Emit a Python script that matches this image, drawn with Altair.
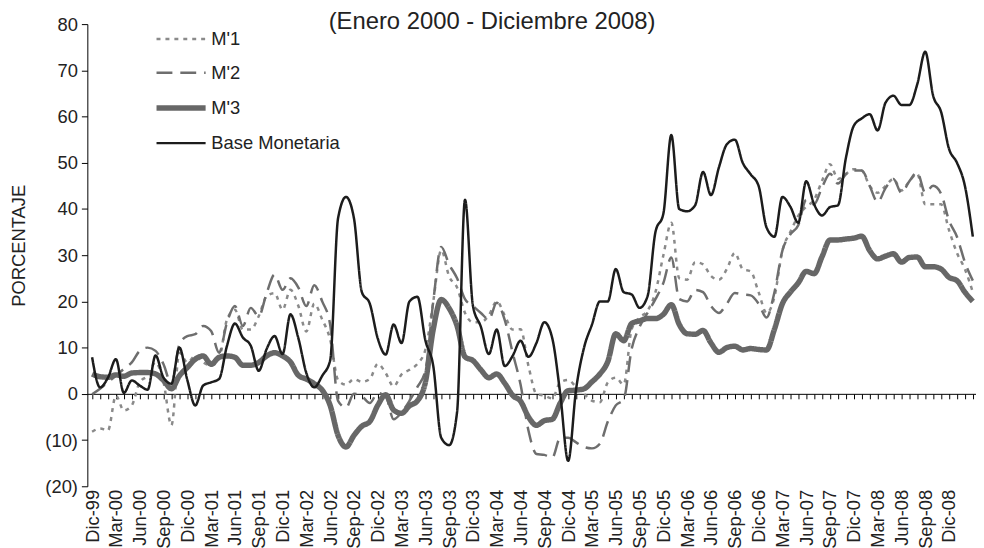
import altair as alt
import pandas as pd

# month index 0 = Dic-99 ... 111 = Mar-09
m1 = [-8.2, -7.5, -7.9, -0.4, -3.6, -2.5, 2.5, 3.9, 6.8, 2.5,
      -6.8, 8.9, 6.8, 8.2, 6.8, 6.1, 7.5, 16.1, 18.2, 13.9,
      13.9, 16.8, 21.1, 21.8, 18.2, 22.5, 19.0, 13.5, 19.5, 16.1,
      11.8, 3.0, 2.0, 3.2, 2.6, 3.2, 6.5, 4.5, 1.6, 4.2,
      5.2, 6.5, 9.5, 20.0, 31.1, 25.4, 23.0, 17.5, 15.5, 15.5,
      17.0, 20.0, 17.0, 13.9, 14.0, 6.0, 0.0, -0.4, -1.0, 2.5,
      3.0, 1.5, 0.0, -1.5, -1.8, 2.5, 3.5, 2.0, 14.0, 16.5,
      18.0, 22.0, 30.0, 37.0, 25.0, 24.7, 28.5, 28.0, 25.5, 24.7,
      27.0, 30.5, 27.0, 26.5, 22.0, 17.5, 21.0, 31.0, 35.0, 38.5,
      40.5, 42.0, 46.1, 49.7, 46.5, 47.6, 48.6, 48.3, 45.0, 43.5,
      45.0, 46.5, 44.0, 46.0, 47.6, 41.0, 41.0, 41.0, 35.4, 30.5,
      27.0, 22.0]
m2 = [-0.1, 1.1, 2.5, 3.9, 5.4, 6.8, 9.3, 10.0, 9.3, 6.4,
      2.1, 10.7, 12.5, 12.9, 14.7, 13.6, 8.9, 15.4, 19.0, 14.7,
      18.6, 16.8, 21.8, 25.8, 22.5, 25.0, 23.0, 19.0, 23.5, 20.0,
      15.0, -1.5, -3.0, 0.0, -0.5, -2.0, 0.2, -0.5, -5.5, -4.0,
      -1.5, 1.5, 5.0, 20.0, 31.8, 28.0, 25.0, 20.5, 19.0, 17.5,
      16.1, 19.7, 16.0, 8.9, 2.0, -8.0, -13.0, -13.2, -13.8, -9.5,
      -9.5, -10.5, -11.5, -11.8, -10.8, -6.0, -2.5, -1.2, 9.7, 14.5,
      17.5, 20.5, 24.0, 29.5, 20.5, 20.0, 22.5, 22.0, 19.0, 17.5,
      19.5, 21.8, 21.5, 21.3, 19.5, 16.5, 22.0, 31.0, 34.5, 36.5,
      42.0, 41.0, 44.7, 47.6, 45.5, 47.5, 48.3, 48.3, 45.0, 41.5,
      44.5, 46.5, 43.5, 46.0, 47.9, 43.5, 45.0, 43.3, 37.5, 34.0,
      28.5, 24.5]
m3 = [4.3, 3.7, 3.6, 4.1, 3.8, 4.5, 4.6, 4.6, 4.3, 2.9,
      1.1, 3.9, 5.7, 7.5, 8.2, 6.4, 7.9, 8.2, 7.9, 6.2,
      6.2, 6.8, 8.2, 8.9, 8.2, 6.9, 4.0, 3.2, 2.2, 0.8,
      -2.5, -9.0, -11.5, -9.0, -7.0, -6.0, -2.5, -0.2, -3.5, -4.2,
      -2.6, -1.5, 2.5, 14.0, 20.4, 18.5, 14.7, 8.0, 7.2, 5.2,
      3.5, 4.3, 2.3, -0.3, -1.6, -5.0, -6.8, -5.8, -5.5, -2.0,
      0.7, 0.8, 1.1, 2.6, 4.3, 7.0, 13.0, 11.5, 15.2, 15.8,
      16.3, 16.3, 17.2, 19.3, 15.0, 13.0, 12.9, 13.7, 11.0, 9.0,
      10.0, 10.3, 9.5, 9.8, 9.6, 9.5, 14.0, 19.5, 22.0, 24.0,
      26.5, 26.0, 29.7, 33.3, 33.3, 33.5, 33.7, 34.1, 31.0, 29.2,
      29.8, 30.3, 28.5, 29.5, 29.6, 27.5, 27.5, 27.0, 25.2, 24.5,
      22.0, 20.0]
base_mon = [7.9, 1.4, 3.5, 7.5, 0.2, 2.9, 1.8, 0.9, 8.3, 3.5,
            2.2, 10.0, 3.0, -2.5, 1.8, 2.5, 3.2, 10.4, 15.2, 12.2,
            10.4, 5.0, 9.7, 12.5, 8.6, 17.2, 12.0, 4.5, 1.4, 3.9,
            7.2, 38.0, 42.6, 38.0, 22.0, 19.5, 12.0, 8.5, 15.0, 11.0,
            20.0, 21.0, 11.6, 6.0, -9.5, -11.1, -3.9, 42.0, 19.0, 14.5,
            8.6, 13.9, 6.0, 8.2, 11.5, 8.0, 11.0, 15.5, 12.0, 0.0,
            -14.5, 1.0, 10.0, 15.0, 20.0, 20.0, 27.0, 22.0, 21.5, 18.6,
            21.1, 35.0, 39.0, 56.0, 40.0, 39.5, 40.8, 48.0, 43.0, 49.0,
            54.0, 55.0, 50.0, 47.5, 45.0, 36.0, 34.0, 42.6, 40.5, 37.0,
            46.0, 41.0, 38.6, 40.4, 40.8, 51.0, 58.0, 59.6, 60.5, 57.0,
            63.0, 64.5, 62.5, 62.5, 67.0, 74.0, 64.5, 61.0, 53.0, 50.0,
            45.0, 34.0]

series_names = ["M'1", "M'2", "M'3", "Base Monetaria"]
series_values = [m1, m2, m3, base_mon]
series_colors = ["#8a8a8a", "#6e6e6e", "#676767", "#1c1c1c"]
series_dash = [[4, 5], [16, 8], [1, 0], [1, 0]]
series_width = [2.5, 2.5, 5.5, 2.5]

label_ticks = list(range(0, 111, 3))
month_ticks = list(range(0, 112))
y_ticks = list(range(-20, 81, 10))

rows = []
for name, vals in zip(series_names, series_values):
    for i, v in enumerate(vals):
        rows.append({"idx": i, "serie": name, "valor": v})
df = pd.DataFrame(rows)

FONT = "Liberation Sans"
x_dom = [-0.6, 111.4]
xs = alt.Scale(domain=x_dom, nice=False, zero=False)
ys = alt.Scale(domain=[-20, 80], nice=False)

y_enc = alt.Y(
    "valor:Q", scale=ys,
    axis=alt.Axis(
        values=y_ticks, grid=False, domainColor="#000", tickColor="#000",
        tickSize=6, labelFontSize=18.5, labelFont=FONT, labelColor="#222",
        labelPadding=4,
        labelExpr="datum.value < 0 ? '(' + format(-datum.value, 'd') + ')' : format(datum.value, 'd')",
        title="PORCENTAJE", titleFont=FONT, titleFontSize=18.5,
        titleFontWeight="normal", titleColor="#222", titlePadding=16, titleY=223,
    ),
)

leg = alt.Legend(
    orient="none", legendX=75, legendY=-3, title=None,
    symbolType="M-1.5,0H1.5", symbolSize=1089, labelFont=FONT,
    labelFontSize=18.5, labelColor="#222", labelOffset=11, rowPadding=6,
)

lines = alt.Chart(df).mark_line(interpolate="monotone").encode(
    x=alt.X("idx:Q", scale=xs, axis=alt.Axis(
        values=label_ticks, orient="bottom", domain=False, ticks=False,
        grid=False, labelAngle=-90, labelAlign="right", labelBaseline="middle",
        labelFont=FONT, labelFontSize=18.5, labelColor="#222", labelPadding=3,
        labelOverlap=False, title=None,
        labelExpr="['Ene','Feb','Mar','Abr','May','Jun','Jul','Ago','Sep','Oct','Nov','Dic'][(datum.value + 11) % 12] + '-' + slice('0' + ((1999 + floor((datum.value + 11) / 12)) % 100), -2)",
    )),
    y=y_enc,
    color=alt.Color("serie:N", scale=alt.Scale(domain=series_names, range=series_colors), legend=leg),
    strokeDash=alt.StrokeDash("serie:N", scale=alt.Scale(domain=series_names, range=series_dash), legend=leg),
    strokeWidth=alt.StrokeWidth("serie:N", scale=alt.Scale(type="ordinal", domain=series_names, range=series_width), legend=leg),
    order="idx:Q",
)

zero_axis = alt.Chart(df).mark_point(opacity=0).encode(
    x=alt.X("idx:Q", scale=xs, axis=alt.Axis(
        values=month_ticks, orient="bottom", offset=-93.2, labels=False,
        domainColor="#000", tickColor="#000", tickSize=5, grid=False, title=None,
    )),
    y=alt.Y("valor:Q", scale=ys),
)

chart = alt.layer(zero_axis, lines).resolve_scale(x="independent").resolve_axis(x="independent").properties(
    width=896, height=466,
    autosize=alt.AutoSizeParams(type="none"),
    padding={"left": 80, "top": 14, "right": 0, "bottom": 60},
    title=alt.TitleParams(
        text="(Enero 2000 - Diciembre 2008)", font=FONT, fontSize=24,
        fontWeight="normal", color="#222", anchor="middle", dx=-40, dy=17, offset=-2,
    ),
).configure_view(stroke=None)

chart.save("out.html", embed_options={"renderer": "svg", "actions": False})
